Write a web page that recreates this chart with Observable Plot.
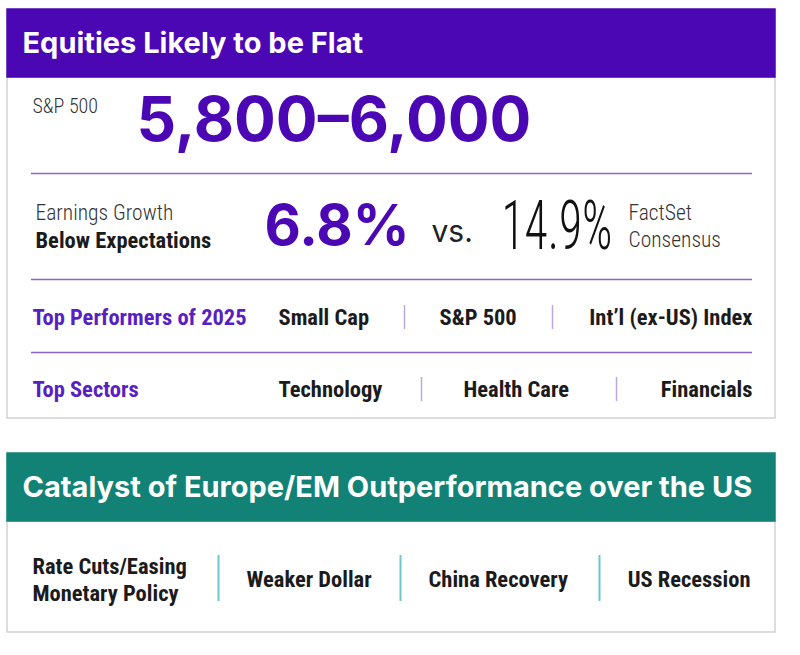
<!DOCTYPE html>
<html>
<head>
<meta charset="utf-8">
<script src="https://cdn.jsdelivr.net/npm/d3@7"></script>
<script src="https://cdn.jsdelivr.net/npm/@observablehq/plot@0.6"></script>
<style>
  html, body { margin: 0; padding: 0; background: #ffffff; }
  #chart svg { display: block; }
</style>
</head>
<body>
<div id="chart"></div>
<script>
// ---------------- DATA ----------------
const sectionTitles = ["Equities Likely to be Flat", "Catalyst of Europe/EM Outperformance over the US"];
const sp500Label = "S&P 500";
const sp500Range = "5,800–6,000";
const earningsLabel = ["Earnings Growth", "Below Expectations"];
const earningsForecast = "6.8%";
const versusLabel = "vs.";
const consensusValue = "14.9%";
const consensusLabel = ["FactSet", "Consensus"];
const performersLabel = "Top Performers of 2025";
const performers = ["Small Cap", "S&P 500", "Int’l (ex-US) Index"];
const sectorsLabel = "Top Sectors";
const sectors = ["Technology", "Health Care", "Financials"];
const catalysts = ["Rate Cuts/Easing\nMonetary Policy", "Weaker Dollar", "China Recovery", "US Recession"];

// ---------------- STYLE / LAYOUT ----------------
const purple = "#4b07b4", purpleText = "#5a1fc2", purpleRule = "#8d63cc", lavender = "#bba8de";
const teal = "#128276", tealSep = "#6cc8c8", border = "#d2d2d2", ink = "#1b1b1b";
const geo = "Inter, 'Open Sans', sans-serif";
const cond = "'Roboto Condensed', 'Liberation Sans Narrow', Roboto, sans-serif";
const bodySize = 22.5;

const layout = {
  left: 7, right: 775,
  header1: [9, 77], box1: [77, 418],
  header2: [453, 521], box2: [521, 632],
  ruleX: [31, 752], rules: [173, 279, 352],
  rowPerf: 317, rowSect: 389, rowCat: 578,
  perfX: [278, 439, 752], perfAnchor: ["start", "start", "end"], perfSep: [404, 552],
  sectX: [278, 463, 752], sectAnchor: ["start", "start", "end"], sectSep: [421, 616],
  catX: [32, 246, 428, 750], catAnchor: ["start", "start", "start", "end"], catSep: [218, 400, 599],
  consensusWidth: 111
};

const panels = [
  {y1: layout.box1[0], y2: layout.box1[1], fill: "white", stroke: border},
  {y1: layout.box2[0], y2: layout.box2[1], fill: "white", stroke: border},
  {y1: layout.header1[0], y2: layout.header1[1], fill: purple, stroke: purple},
  {y1: layout.header2[0], y2: layout.header2[1], fill: teal, stroke: teal}
];
const titles = sectionTitles.map((t, i) => ({t, y: i === 0 ? (layout.header1[0] + layout.header1[1]) / 2 : (layout.header2[0] + layout.header2[1]) / 2}));

const perfRows = performers.map((t, i) => ({t, x: layout.perfX[i], a: layout.perfAnchor[i]}));
const sectRows = sectors.map((t, i) => ({t, x: layout.sectX[i], a: layout.sectAnchor[i]}));
const catRows = catalysts.map((t, i) => ({t, x: layout.catX[i], a: layout.catAnchor[i]}));

function rowText(rows, y, opts) {
  return ["start", "end"].map(a => Plot.text(rows.filter(d => d.a === a), {
    x: "x", y: () => y, text: "t", textAnchor: a, lineAnchor: "middle", ...opts
  }));
}

const chart = Plot.plot({
  width: 800, height: 655, margin: 0,
  x: {domain: [0, 800], range: [0, 800], axis: null},
  y: {domain: [0, 655], range: [0, 655], axis: null},
  style: {background: "white", overflow: "visible"},
  marks: [
    Plot.rect(panels, {x1: () => layout.left, x2: () => layout.right, y1: "y1", y2: "y2", fill: d => d.fill, stroke: d => d.stroke, strokeWidth: 1.5}),
    Plot.text(titles, {x: () => 22, y: "y", text: "t", fill: "white", fontSize: 29, fontWeight: 700, fontFamily: geo, textAnchor: "start", lineAnchor: "middle"}),
    // dividers
    Plot.ruleY(layout.rules, {x1: layout.ruleX[0], x2: layout.ruleX[1], stroke: purpleRule, strokeWidth: 1.5}),
    // separators
    Plot.ruleX(layout.perfSep, {y1: layout.rowPerf - 12, y2: layout.rowPerf + 12, stroke: lavender, strokeWidth: 1.5}),
    Plot.ruleX(layout.sectSep, {y1: layout.rowSect - 12, y2: layout.rowSect + 12, stroke: lavender, strokeWidth: 1.5}),
    Plot.ruleX(layout.catSep, {y1: layout.rowCat - 23, y2: layout.rowCat + 23, stroke: tealSep, strokeWidth: 2}),
    // S&P row
    Plot.text([sp500Label], {x: () => 32, y: () => 106, text: d => d, fill: "#333", fontSize: 20, fontWeight: 300, fontFamily: cond, textAnchor: "start", lineAnchor: "middle"}),
    Plot.text([sp500Range], {x: () => 136, y: () => 121, text: d => d, fill: purple, fontSize: 62, fontWeight: 700, fontFamily: geo, textAnchor: "start", lineAnchor: "middle"}),
    // earnings row
    Plot.text([earningsLabel[0]], {x: () => 35, y: () => 213, text: d => d, fill: "#333", fontSize: 21.5, fontWeight: 300, fontFamily: cond, textAnchor: "start", lineAnchor: "middle"}),
    Plot.text([earningsLabel[1]], {x: () => 35, y: () => 240, text: d => d, fill: ink, fontSize: bodySize, fontWeight: 700, fontFamily: cond, textAnchor: "start", lineAnchor: "middle"}),
    Plot.text([earningsForecast], {x: () => 264, y: () => 227, text: d => d, fill: purple, fontSize: 56, fontWeight: 700, fontFamily: geo, textAnchor: "start", lineAnchor: "middle"}),
    Plot.text([versusLabel], {x: () => 431, y: () => 232, text: d => d, fill: "#222", fontSize: 30, fontFamily: geo, textAnchor: "start", lineAnchor: "middle"}),
    Plot.text([consensusValue], {x: () => 501, y: () => 227, text: d => d, fill: "#111", fontSize: 68, fontWeight: 300, fontFamily: cond, textAnchor: "start", lineAnchor: "middle"}),
    Plot.text([consensusLabel[0]], {x: () => 628, y: () => 213, text: d => d, fill: "#333", fontSize: 21.5, fontWeight: 300, fontFamily: cond, textAnchor: "start", lineAnchor: "middle"}),
    Plot.text([consensusLabel[1]], {x: () => 628, y: () => 240, text: d => d, fill: "#333", fontSize: 21.5, fontWeight: 300, fontFamily: cond, textAnchor: "start", lineAnchor: "middle"}),
    // performers row
    Plot.text([performersLabel], {x: () => 32, y: () => layout.rowPerf, text: d => d, fill: purpleText, fontSize: bodySize, fontWeight: 700, fontFamily: cond, textAnchor: "start", lineAnchor: "middle"}),
    ...rowText(perfRows, layout.rowPerf, {fill: ink, fontSize: bodySize, fontWeight: 700, fontFamily: cond}),
    // sectors row
    Plot.text([sectorsLabel], {x: () => 32, y: () => layout.rowSect, text: d => d, fill: purpleText, fontSize: bodySize, fontWeight: 700, fontFamily: cond, textAnchor: "start", lineAnchor: "middle"}),
    ...rowText(sectRows, layout.rowSect, {fill: ink, fontSize: bodySize, fontWeight: 700, fontFamily: cond}),
    // catalysts row
    ...rowText(catRows, layout.rowCat, {fill: ink, fontSize: bodySize, fontWeight: 700, fontFamily: cond, lineHeight: 1.2})
  ]
});
document.getElementById("chart").appendChild(chart);
// condensed figure: squeeze horizontally to the narrow face of the original
d3.select(chart).selectAll("text").filter(function() { return this.textContent === consensusValue; })
  .each(function() {
    const len = this.getComputedTextLength();
    const sx = layout.consensusWidth / len;
    const t = this.getAttribute("transform") || "";
    this.setAttribute("transform", t + ` scale(${sx},1)`);
  });
</script>
</body>
</html>
